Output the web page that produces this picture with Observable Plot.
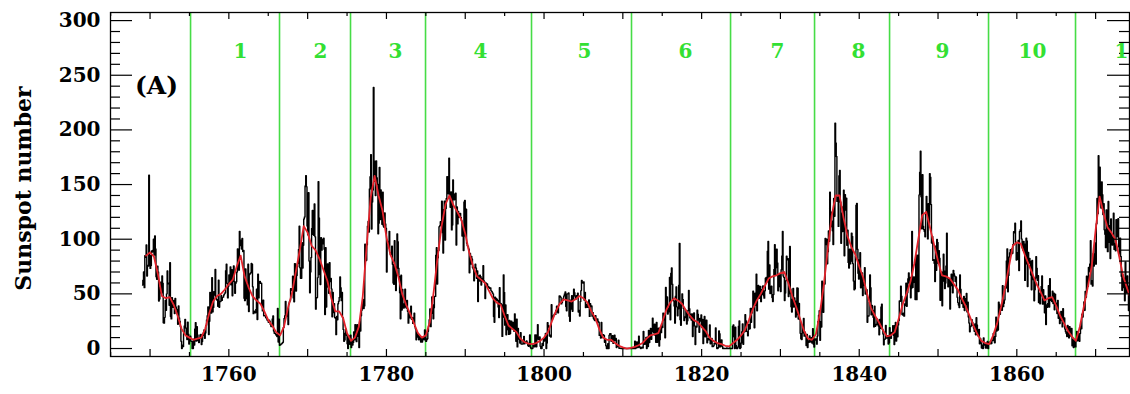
<!DOCTYPE html>
<html>
<head>
<meta charset="utf-8">
<script src="https://cdn.jsdelivr.net/npm/d3@7"></script>
<script src="https://cdn.jsdelivr.net/npm/@observablehq/plot@0.6"></script>
<style>
  html, body { margin: 0; padding: 0; background: #fff; overflow: hidden; }
</style>
</head>
<body>
<div id="chart"></div>
<script>
// Monthly sunspot numbers (black), 12 values per year starting January 1749
const monthlyStartYear = 1749;
const monthly = [
  58.0, 62.6, 70.0, 55.7, 85.0, 83.5, 94.8, 66.3, 75.9, 75.5, 158.6, 85.2,
  73.3, 75.9, 89.2, 88.3, 90.0, 100.0, 85.4, 103.0, 91.2, 65.7, 63.3, 75.4,
  70.0, 43.5, 45.3, 56.4, 60.7, 50.7, 66.3, 59.8, 23.5, 23.2, 28.5, 44.0,
  35.0, 50.0, 71.0, 59.3, 59.7, 39.6, 78.4, 29.3, 27.1, 46.6, 37.6, 40.0,
  44.0, 32.0, 45.7, 38.0, 36.0, 31.7, 22.2, 39.0, 28.0, 25.0, 20.0, 6.7,
  0.0, 3.0, 1.7, 13.7, 20.7, 26.7, 18.8, 12.3, 8.2, 24.1, 13.2, 4.2,
  10.2, 11.2, 6.8, 6.5, 0.0, 0.0, 8.6, 3.2, 17.8, 23.7, 6.8, 20.0,
  12.5, 7.1, 5.4, 9.4, 12.5, 12.9, 3.6, 6.4, 11.8, 14.3, 17.0, 9.4,
  14.1, 21.2, 26.2, 30.0, 38.1, 12.8, 25.0, 51.3, 39.7, 32.5, 64.7, 33.5,
  37.6, 52.0, 49.0, 72.3, 46.4, 45.0, 44.0, 38.7, 62.5, 37.7, 43.0, 43.0,
  48.3, 44.0, 46.8, 47.0, 49.0, 50.0, 51.0, 71.3, 77.2, 59.7, 46.3, 57.0,
  67.3, 59.5, 74.7, 58.3, 72.0, 48.3, 66.0, 75.6, 61.3, 50.6, 59.7, 61.0,
  70.0, 91.0, 80.7, 71.7, 107.2, 99.3, 94.1, 91.1, 100.7, 88.7, 89.7, 46.0,
  43.8, 72.8, 45.7, 60.2, 39.9, 77.1, 33.8, 67.7, 68.5, 69.3, 77.8, 77.2,
  56.5, 31.9, 34.2, 32.9, 32.7, 35.8, 54.2, 26.5, 68.1, 46.3, 60.9, 61.4,
  59.7, 59.7, 40.2, 34.4, 44.3, 30.0, 30.0, 30.0, 28.2, 28.0, 26.0, 25.7,
  24.0, 26.0, 25.0, 22.0, 20.2, 20.0, 27.0, 29.7, 16.0, 14.0, 14.0, 13.0,
  12.0, 11.0, 36.6, 6.0, 26.8, 3.0, 3.3, 4.0, 4.3, 5.0, 5.7, 19.2,
  27.4, 30.0, 43.0, 32.9, 29.8, 33.3, 21.9, 40.8, 42.7, 44.1, 54.7, 53.3,
  53.5, 66.1, 46.3, 42.7, 77.7, 77.4, 52.6, 66.8, 74.8, 77.8, 90.6, 111.8,
  73.9, 64.2, 64.3, 96.7, 73.6, 94.4, 118.6, 120.3, 148.8, 158.2, 148.1, 112.0,
  104.0, 142.5, 80.1, 51.0, 70.1, 83.3, 109.8, 126.3, 104.4, 103.6, 132.2, 102.3,
  36.0, 46.2, 46.7, 64.9, 152.7, 119.5, 67.7, 58.5, 101.4, 90.0, 99.7, 95.7,
  100.9, 90.8, 31.1, 92.2, 38.0, 57.0, 77.3, 56.2, 50.5, 78.6, 61.3, 64.0,
  54.6, 29.0, 51.2, 32.9, 41.1, 28.4, 27.7, 12.7, 29.3, 26.3, 40.9, 43.2,
  46.8, 65.4, 55.7, 43.8, 51.3, 28.5, 17.5, 6.6, 7.9, 14.0, 17.7, 12.2,
  4.4, 0.0, 11.6, 11.2, 3.9, 12.3, 1.0, 7.9, 3.2, 5.6, 15.1, 7.9,
  21.7, 11.6, 6.3, 21.8, 11.2, 19.0, 1.0, 24.2, 16.0, 30.0, 35.0, 40.0,
  45.0, 36.5, 39.0, 95.5, 80.3, 80.7, 95.0, 112.0, 116.2, 106.5, 146.0, 157.3,
  177.3, 109.3, 134.0, 145.0, 238.9, 171.6, 153.0, 140.0, 171.7, 156.3, 150.3, 105.0,
  114.7, 165.7, 118.0, 145.0, 140.0, 113.7, 143.0, 112.0, 111.0, 124.0, 114.0, 110.0,
  70.0, 98.0, 98.0, 95.0, 107.2, 88.0, 86.0, 86.0, 93.7, 77.0, 60.0, 58.7,
  98.7, 74.7, 53.0, 68.3, 104.7, 97.7, 73.5, 66.0, 51.0, 27.3, 67.0, 35.2,
  54.0, 37.5, 37.0, 41.0, 54.3, 38.0, 37.0, 44.0, 34.0, 23.2, 31.5, 30.0,
  28.0, 38.7, 26.7, 28.3, 23.0, 25.2, 32.2, 20.0, 18.0, 8.0, 15.0, 10.5,
  13.0, 8.0, 11.0, 10.0, 6.0, 9.0, 6.0, 10.0, 10.0, 8.0, 17.0, 14.0,
  6.5, 8.0, 9.0, 15.7, 20.7, 26.3, 36.3, 20.0, 32.0, 47.2, 40.2, 27.3,
  37.2, 47.6, 47.7, 85.4, 92.3, 59.0, 83.0, 89.7, 111.5, 112.3, 116.0, 112.7,
  134.7, 106.0, 87.4, 127.2, 134.8, 99.2, 128.0, 137.2, 157.3, 157.0, 141.5, 174.0,
  138.0, 129.2, 143.3, 108.5, 113.0, 154.2, 141.5, 136.0, 141.0, 142.0, 94.7, 129.5,
  114.0, 125.3, 120.0, 123.3, 123.5, 120.0, 117.0, 103.0, 112.0, 89.7, 134.0, 135.5,
  103.0, 127.5, 96.3, 94.0, 93.0, 91.0, 69.3, 87.0, 77.3, 84.3, 82.0, 74.0,
  72.7, 62.0, 74.0, 77.2, 73.7, 64.2, 71.0, 43.0, 66.5, 61.7, 67.0, 66.0,
  58.0, 64.0, 63.0, 75.7, 62.0, 61.0, 45.8, 60.0, 59.0, 59.0, 57.0, 56.0,
  56.0, 55.0, 55.5, 53.0, 52.3, 51.0, 50.0, 29.3, 24.0, 47.0, 44.0, 45.7,
  45.0, 44.0, 38.0, 28.4, 55.7, 41.5, 41.0, 40.0, 11.1, 28.5, 67.4, 51.4,
  21.4, 39.9, 12.6, 18.6, 31.0, 17.1, 12.9, 25.7, 13.5, 19.5, 25.0, 18.0,
  22.0, 23.8, 15.7, 31.7, 21.0, 6.7, 26.9, 1.5, 18.4, 11.0, 8.4, 5.1,
  14.4, 4.2, 4.0, 4.0, 7.3, 11.1, 4.3, 6.0, 5.7, 6.9, 5.8, 3.0,
  2.0, 4.0, 12.4, 1.1, 0.0, 0.0, 0.0, 3.0, 2.4, 1.5, 12.5, 9.9,
  1.6, 12.6, 21.7, 8.4, 8.2, 10.6, 2.1, 0.0, 0.0, 4.6, 2.7, 8.6,
  6.9, 9.3, 13.9, 0.0, 5.0, 23.7, 21.0, 19.5, 11.5, 12.3, 10.5, 40.1,
  27.0, 29.0, 30.0, 31.0, 32.0, 31.2, 35.0, 38.7, 33.5, 32.6, 39.8, 48.2,
  47.8, 47.0, 40.8, 42.0, 44.0, 46.0, 48.0, 50.0, 51.8, 38.5, 34.5, 50.0,
  50.0, 50.8, 29.5, 25.0, 44.3, 36.0, 48.3, 34.1, 45.3, 54.3, 51.0, 48.0,
  45.3, 48.3, 48.0, 50.6, 33.4, 34.8, 29.8, 43.1, 53.0, 62.3, 61.0, 60.0,
  61.0, 44.1, 51.4, 37.5, 39.0, 40.5, 37.6, 42.7, 44.4, 29.4, 41.0, 38.3,
  39.0, 29.6, 32.7, 27.7, 26.4, 25.6, 30.0, 26.3, 24.0, 27.0, 25.0, 24.0,
  12.0, 12.2, 9.6, 23.8, 10.0, 12.0, 12.7, 12.0, 5.7, 8.0, 2.6, 0.0,
  0.0, 4.5, 0.0, 12.3, 13.5, 13.5, 6.7, 8.0, 11.7, 4.7, 10.5, 12.3,
  7.2, 9.2, 0.9, 2.5, 2.0, 7.7, 0.3, 0.2, 0.4, 0.0, 0.0, 0.0,
  0.0, 0.0, 0.0, 0.0, 0.0, 0.0, 0.0, 0.0, 0.0, 0.0, 0.0, 0.0,
  0.0, 0.0, 0.0, 0.0, 0.0, 0.0, 6.6, 0.0, 2.4, 6.1, 0.8, 1.1,
  11.3, 1.9, 0.7, 0.0, 1.0, 1.3, 0.5, 15.6, 5.2, 3.9, 7.9, 10.1,
  0.0, 10.3, 1.9, 16.6, 5.5, 11.2, 18.3, 8.4, 15.3, 27.8, 16.7, 14.3,
  22.2, 12.0, 5.7, 23.8, 5.8, 14.9, 18.5, 2.3, 8.1, 19.3, 14.5, 20.1,
  19.2, 32.2, 26.2, 31.6, 9.8, 55.9, 35.5, 47.2, 31.5, 33.5, 37.2, 65.0,
  26.3, 68.8, 73.7, 58.8, 44.3, 43.6, 38.8, 23.2, 47.8, 56.4, 38.1, 29.9,
  36.4, 57.9, 96.2, 26.4, 21.2, 40.0, 50.0, 45.0, 36.7, 25.6, 28.9, 28.4,
  34.9, 22.4, 25.4, 34.5, 53.1, 36.4, 28.0, 31.5, 26.1, 31.7, 10.9, 25.8,
  32.5, 20.7, 3.7, 20.2, 19.6, 35.0, 31.4, 26.1, 14.9, 27.5, 25.1, 30.6,
  19.2, 26.6, 4.5, 19.4, 29.3, 10.8, 20.6, 25.9, 5.2, 9.0, 7.9, 9.7,
  21.5, 4.3, 5.7, 9.2, 1.7, 1.8, 2.5, 4.8, 4.4, 18.8, 4.4, 0.0,
  0.0, 0.9, 16.1, 13.5, 1.5, 5.6, 7.9, 2.1, 0.0, 0.4, 0.0, 0.0,
  0.0, 0.0, 0.6, 0.0, 0.0, 0.0, 0.5, 0.0, 0.0, 0.0, 0.0, 20.4,
  21.6, 10.8, 0.0, 19.4, 2.8, 0.0, 0.0, 1.4, 20.5, 25.2, 0.0, 0.8,
  5.0, 15.5, 22.4, 3.8, 15.4, 15.4, 30.9, 25.4, 15.7, 15.6, 11.7, 22.0,
  17.7, 18.2, 36.7, 24.0, 32.4, 37.1, 52.5, 39.6, 18.9, 50.6, 39.5, 68.1,
  34.6, 47.4, 57.8, 46.0, 56.3, 56.7, 42.9, 53.7, 49.6, 57.2, 48.2, 46.1,
  52.8, 64.4, 65.0, 61.1, 89.1, 98.0, 54.3, 76.4, 50.4, 54.7, 57.0, 46.6,
  43.0, 49.4, 72.3, 95.0, 67.5, 73.9, 90.8, 78.3, 52.8, 57.2, 67.6, 56.5,
  52.2, 72.1, 84.6, 107.1, 66.3, 65.1, 43.9, 50.7, 62.1, 84.4, 81.2, 82.1,
  47.5, 50.1, 93.4, 54.6, 38.1, 33.4, 45.2, 54.9, 37.9, 46.2, 43.5, 28.9,
  30.9, 55.5, 55.1, 26.9, 41.3, 26.7, 13.9, 8.9, 8.2, 21.1, 14.3, 27.5,
  11.3, 14.9, 11.8, 2.8, 12.9, 1.0, 7.0, 5.7, 11.6, 7.5, 5.9, 9.9,
  4.9, 18.1, 3.9, 1.4, 8.8, 7.8, 8.7, 4.0, 11.5, 24.8, 30.5, 34.5,
  7.5, 24.5, 19.7, 61.5, 43.6, 33.2, 59.8, 59.0, 100.8, 95.2, 100.0, 77.5,
  88.6, 107.6, 98.1, 142.9, 111.4, 124.7, 116.7, 107.8, 95.1, 137.4, 120.9, 206.2,
  188.0, 175.6, 134.6, 138.2, 111.7, 158.0, 162.8, 134.0, 96.3, 123.7, 107.0, 129.8,
  144.9, 84.8, 140.8, 126.6, 137.6, 94.5, 108.2, 78.8, 73.6, 90.8, 77.4, 79.8,
  105.6, 102.5, 77.7, 61.8, 53.8, 54.6, 84.7, 131.2, 132.7, 90.8, 68.8, 63.6,
  81.2, 87.7, 55.5, 65.9, 69.2, 48.5, 60.7, 57.8, 74.0, 49.8, 54.3, 53.7,
  24.0, 29.9, 29.7, 42.6, 67.4, 55.7, 30.8, 39.3, 35.1, 28.5, 19.8, 38.8,
  20.4, 22.1, 21.7, 26.9, 24.9, 20.5, 12.6, 26.5, 18.5, 38.1, 40.5, 17.6,
  13.3, 3.5, 8.3, 8.8, 21.1, 10.5, 9.5, 11.8, 4.2, 5.3, 19.1, 12.7,
  9.4, 14.7, 13.6, 20.8, 12.0, 3.7, 21.2, 23.9, 6.9, 21.5, 10.7, 21.6,
  25.7, 43.6, 43.3, 57.0, 47.8, 31.1, 30.6, 32.3, 29.6, 40.7, 39.4, 59.7,
  38.7, 51.0, 63.9, 69.2, 59.9, 65.1, 46.5, 54.8, 107.1, 55.9, 60.4, 65.5,
  62.6, 44.9, 85.7, 44.7, 75.4, 85.3, 52.2, 140.6, 161.2, 180.4, 138.9, 109.6,
  159.1, 111.8, 108.9, 107.1, 102.2, 123.8, 139.2, 132.5, 100.3, 132.4, 114.6, 159.9,
  156.7, 131.7, 96.5, 102.5, 80.6, 81.2, 78.0, 61.3, 93.7, 71.5, 99.7, 97.0,
  78.0, 89.4, 82.6, 44.1, 61.6, 70.0, 39.1, 61.6, 86.2, 71.0, 54.8, 60.0,
  75.5, 105.4, 64.6, 56.5, 62.6, 63.2, 36.1, 57.4, 67.9, 62.5, 51.0, 71.4,
  68.4, 66.4, 61.2, 65.4, 54.9, 46.9, 42.0, 39.7, 37.5, 67.3, 54.3, 45.4,
  41.1, 42.9, 37.7, 47.6, 34.7, 40.0, 45.9, 50.4, 33.5, 42.3, 28.8, 23.4,
  15.4, 20.0, 20.7, 26.4, 24.0, 21.1, 18.7, 15.8, 22.4, 12.6, 28.2, 21.6,
  12.3, 11.4, 17.4, 4.4, 9.1, 5.3, 0.4, 3.1, 0.0, 9.6, 4.2, 3.1,
  0.5, 4.9, 0.4, 6.5, 0.0, 5.2, 4.6, 5.9, 4.4, 4.5, 7.7, 7.2,
  13.7, 7.4, 5.2, 11.1, 28.6, 16.0, 22.2, 16.9, 42.4, 40.6, 31.4, 37.2,
  39.0, 34.9, 57.5, 38.3, 41.4, 44.5, 56.7, 55.3, 80.1, 91.2, 51.9, 66.9,
  83.7, 87.6, 90.3, 85.7, 91.0, 87.1, 95.2, 106.8, 105.8, 114.6, 97.2, 81.0,
  81.5, 88.0, 98.9, 71.4, 107.1, 108.6, 116.7, 100.3, 92.2, 90.1, 97.9, 95.6,
  62.3, 77.3, 101.0, 98.5, 56.8, 87.8, 78.0, 82.5, 79.9, 67.2, 53.7, 80.5,
  63.1, 64.5, 43.6, 53.7, 64.4, 84.0, 73.4, 62.5, 66.6, 42.0, 50.6, 40.9,
  48.3, 56.7, 66.4, 40.6, 53.8, 40.8, 32.7, 48.1, 22.0, 39.9, 37.7, 41.2,
  57.5, 38.0, 63.9, 46.5, 44.0, 43.0, 52.4, 41.2, 50.6, 35.4, 49.8, 41.7,
  39.4, 32.0, 44.0, 27.6, 31.1, 22.8, 30.2, 33.9, 25.6, 19.8, 36.4, 23.2,
  28.0, 17.9, 15.4, 13.8, 10.9, 21.2, 14.6, 9.7, 20.0, 14.1, 11.5, 18.3,
  2.5, 8.0, 0.9, 4.6, 7.8, 1.5, 8.4, 15.6, 7.1, 13.6, 10.5, 6.6,
  13.8, 20.2, 18.1, 31.5, 28.9, 34.6, 42.5, 35.0, 52.1, 46.8, 66.1, 61.9,
  57.0, 74.2, 70.2, 77.4, 98.6, 58.9, 62.1, 57.2, 86.7, 75.5, 86.4, 96.6,
  77.2, 114.1, 137.3, 123.4, 176.3, 134.9, 165.8, 151.2, 128.6, 152.4, 140.7, 122.6,
  132.5, 108.7, 104.5, 92.3, 126.7, 117.1, 88.6, 134.6, 97.2, 112.4, 82.3, 118.5,
  101.6, 94.7, 102.3, 123.8, 90.7, 96.2, 89.5, 117.8, 102.1, 106.4, 118.8, 93.0,
  86.4, 101.0, 84.2, 66.1, 53.3, 67.3, 55.8, 64.1, 43.7, 79.2, 53.4, 50.9,
  66.3, 57.1, 34.8, 48.6, 29.0, 46.7, 50.2, 40.8, 38.6, 26.7, 49.9, 27.5
];

// Smoothed sunspot number (red), one value every half year starting mid-1749
const smoothStartYear = 1749.5;
const smoothStepYears = 0.5;
const smoothed = [
  85,
  88, 84,  68, 48,  46, 47,  40, 30,  18, 12,  10, 8,  9, 10,  18, 32,  43, 48,  50, 54,
  59, 63,  75, 85,  66, 56,  48, 44,  41, 34,  26, 21,  15, 12,  20, 37,  50, 70,  90, 112,
  106, 94,  90, 82,  72, 62,  46, 34,  34, 28,  14, 7,  10, 20,  48, 95,  138, 158,  140, 126,
  102, 86,  78, 66,  50, 40,  32, 23,  14, 10,  12, 24,  52, 84,  112, 132,  140, 131,  125, 118,
  105, 88,  75, 66,  63, 60,  53, 46,  42, 40,  30, 21,  18, 15,  9, 6,  4.5, 4,  5, 7,
  10, 15,  25, 34,  41, 45,  44, 43,  45, 48,  46, 42,  34, 28,  18, 10,  8, 8,  5, 2.5,
  1, 0,  0.5, 1.5,  3, 5,  9, 12,  13, 14,  24, 35,  42, 46,  44, 41,  35, 30,  26, 24,
  20, 16,  10, 7,  5, 4,  2.5, 2,  5, 8,  12, 17,  26, 36,  44, 50,  57, 64,  66, 67,
  69, 70,  60, 48,  38, 27,  16, 9,  8, 13,  32, 58,  90, 121,  140, 140,  120, 103,  93, 86,
  75, 65,  50, 37,  30, 24,  17, 11,  12, 15,  27, 40,  50, 61,  78, 100,  122, 125,  110, 95,
  80, 67,  66, 64,  59, 54,  46, 39,  30, 21,  13, 7,  5, 4,  12, 23,  38, 55,  75, 94,
  97, 96,  86, 77,  68, 59,  52, 44,  46, 47,  39, 30,  23, 16,  11, 7,  20, 38,  56, 75,
  108, 139,  124, 111,  106, 100,  84, 66,  55, 45
];

// Solar cycle boundaries (green lines) and cycle numbers
const cycleStarts = [1755.14, 1766.43, 1775.44, 1784.96, 1798.41, 1811.10, 1823.67, 1834.33, 1843.85, 1856.41, 1867.45];
const cycleNames = ["1", "2", "3", "4", "5", "6", "7", "8", "9", "10", "11"];
const cycleLabelYears = [1761.48, 1771.63, 1781.15, 1791.94, 1805.14, 1817.96, 1829.63, 1839.91, 1850.57, 1861.99, 1874.17];

// Axis ticks
const yTickLabels = [0, 50, 100, 150, 200, 250, 300];
const yMinorTicks = [10, 20, 30, 40, 60, 70, 80, 90, 110, 120, 130, 140, 160, 170, 180, 190, 210, 220, 230, 240, 260, 270, 280, 290];
const xTickLabels = [1760, 1780, 1800, 1820, 1840, 1860];
const xTenTicks = [1750, 1760, 1770, 1780, 1790, 1800, 1810, 1820, 1830, 1840, 1850, 1860, 1870];
const xFiveTicks = [1745, 1755, 1765, 1775, 1785, 1795, 1805, 1815, 1825, 1835, 1845, 1855, 1865];
const yTitle = ["Sunspot number"];
const panelLabel = ["(A)"];

const monthlyData = monthly.map((v, i) => ({t: monthlyStartYear + (i + 0.5) / 12, v}));
const smoothData = smoothed.map((v, i) => ({t: smoothStartYear + i * smoothStepYears, v}));
const cycleData = cycleNames.map((name, i) => ({name, t: cycleLabelYears[i]}));

const FONT = "DejaVu Serif";
const W = 1130, H = 394;
const M = {left: 110, right: 1, top: 12, bottom: 38};
const frameW = W - M.left - M.right;   // inner frame width in px
const frameH = H - M.top - M.bottom;   // inner frame height in px
const tk = {stroke: "#000", strokeWidth: 1.2};

const chart = Plot.plot({
  width: W,
  height: H,
  marginLeft: M.left,
  marginRight: M.right,
  marginTop: M.top,
  marginBottom: M.bottom,
  style: {background: "#fff", color: "#000", fontFamily: FONT},
  x: {domain: [1744.98, 1874.30]},
  y: {domain: [-7.3, 307.4]},
  marks: [
    Plot.ruleX(cycleStarts, {stroke: "#46dc46", strokeWidth: 1.6}),
    Plot.line(monthlyData, {x: "t", y: "v", stroke: "#000", strokeWidth: 1.4, curve: "step", clip: true}),
    Plot.line(smoothData, {x: "t", y: "v", stroke: "#e3222a", strokeWidth: 1.8, clip: true}),
    // inward tick marks on all four sides
    Plot.tickY(yTickLabels, {y: d => d, ...tk, insetRight: frameW - 22}),
    Plot.tickY(yMinorTicks, {y: d => d, ...tk, insetRight: frameW - 10}),
    Plot.tickY(yTickLabels, {y: d => d, ...tk, insetLeft: frameW - 22}),
    Plot.tickY(yMinorTicks, {y: d => d, ...tk, insetLeft: frameW - 10}),
    Plot.tickX(xTenTicks, {x: d => d, ...tk, insetTop: frameH - 7}),
    Plot.tickX(xFiveTicks, {x: d => d, ...tk, insetTop: frameH - 4}),
    Plot.tickX(xTenTicks, {x: d => d, ...tk, insetBottom: frameH - 7}),
    Plot.tickX(xFiveTicks, {x: d => d, ...tk, insetBottom: frameH - 4}),
    Plot.frame({stroke: "#000", strokeWidth: 1.3}),
    Plot.axisY(yTickLabels, {anchor: "left", tickSize: 0, tickPadding: 10, label: null,
      tickFormat: d => String(d), fontSize: 20, fontWeight: "bold", fontFamily: FONT, fill: "#000"}),
    Plot.axisX(xTickLabels, {anchor: "bottom", tickSize: 0, tickPadding: 10, label: null,
      tickFormat: d => String(d), fontSize: 20, fontWeight: "bold", fontFamily: FONT, fill: "#000"}),
    Plot.text(cycleData, {x: "t", text: "name", frameAnchor: "top", dy: 39, lineAnchor: "middle",
      fill: "#33e033", fontSize: 20, fontWeight: "bold", fontFamily: FONT}),
    Plot.text(panelLabel, {frameAnchor: "top-left", dx: 46, dy: 73, text: d => d,
      textAnchor: "middle", lineAnchor: "middle",
      fill: "#000", fontSize: 25, fontWeight: "bold", fontFamily: FONT}),
    Plot.text(yTitle, {frameAnchor: "left", dx: -87, dy: 4, rotate: -90, text: d => d,
      textAnchor: "middle", lineAnchor: "middle",
      fill: "#000", fontSize: 22, fontWeight: "bold", fontFamily: FONT})
  ]
});

document.getElementById("chart").appendChild(chart);
</script>
</body>
</html>
